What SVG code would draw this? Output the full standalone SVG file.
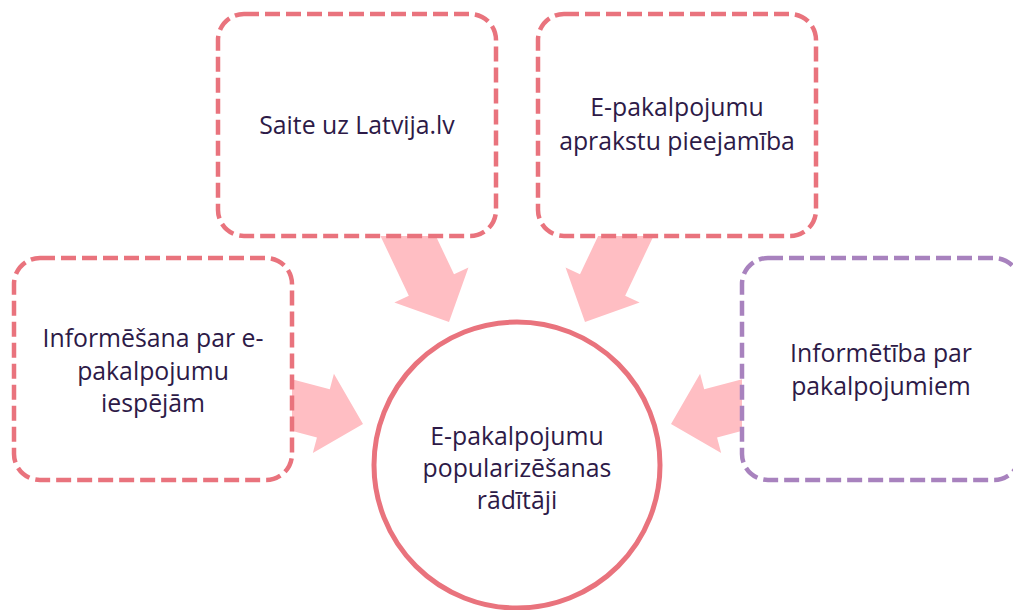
<svg xmlns="http://www.w3.org/2000/svg" width="1013" height="610" viewBox="0 0 1013 610">
<style>
.box{fill:#fff;stroke-width:4.5;stroke-dasharray:15 6}
.red{stroke:#E9737D}
.purple{stroke:#A882BE}
.arrow{fill:#FFBEC3}
text{font-family:"Open Sans","Noto Sans",sans-serif;font-size:24.8px;fill:#2D1A47;text-anchor:middle}
</style>
<defs>
<polygon id="blk" points="0,0 -41,-41 -41,-25 -140,-25 -140,25 -41,25 -41,41"/>
</defs>
<g id="connectors">
<use href="#blk" class="arrow" transform="translate(449,322) rotate(64.6)"/>
<use href="#blk" class="arrow" transform="translate(585,322) rotate(115.4)"/>
<use href="#blk" class="arrow" transform="translate(363,424) rotate(14.9)"/>
<use href="#blk" class="arrow" transform="translate(671,424) rotate(165.1)"/>
</g>
<g id="node-saite">
<rect class="box red" x="218" y="14" width="278" height="222" rx="26"/>
<text x="357" y="134">Saite uz Latvija.lv</text>
</g>
<g id="node-apraksti">
<rect class="box red" x="538" y="14" width="278" height="222" rx="26"/>
<text x="677" y="116">E-pakalpojumu</text>
<text x="677" y="150">aprakstu pieejamība</text>
</g>
<g id="node-informesana">
<rect class="box red" x="14" y="258" width="278" height="222" rx="26"/>
<text x="153" y="347">Informēšana par e-</text>
<text x="153" y="380">pakalpojumu</text>
<text x="153" y="412">iespējām</text>
</g>
<g id="node-informetiba">
<rect class="box purple" x="742" y="258" width="278" height="222" rx="26"/>
<text x="881" y="362">Informētība par</text>
<text x="881" y="395">pakalpojumiem</text>
</g>
<g id="node-center">
<circle cx="517" cy="465" r="143" fill="#fff" stroke="#E9737D" stroke-width="5"/>
<text x="517" y="445">E-pakalpojumu</text>
<text x="517" y="477">popularizēšanas</text>
<text x="517" y="509">rādītāji</text>
</g>
</svg>
